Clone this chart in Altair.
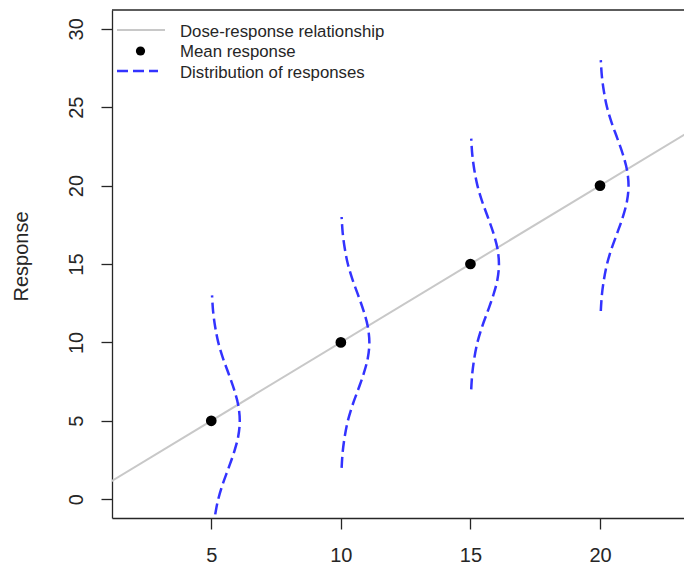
import altair as alt
import pandas as pd

# ---- values ----
doses = [5, 10, 15, 20]
mean_response = [5, 10, 15, 20]
line_dose = [0, 25]
line_response = [0, 25]
dist_offsets = [-8, -7, -6, -5, -4, -3, -2, -1, 0, 1, 2, 3, 4, 5, 6, 7, 8]
dist_widths = [0.03, 0.07, 0.15, 0.27, 0.45, 0.67, 0.88, 1.04, 1.10,
               1.04, 0.88, 0.67, 0.45, 0.27, 0.15, 0.07, 0.03]
x_ticks = [5, 10, 15, 20]
y_ticks = [0, 5, 10, 15, 20, 25, 30]
legend_labels = ["Dose-response relationship", "Mean response", "Distribution of responses"]

# ---- tables ----
pts = pd.DataFrame({"x": doses, "y": mean_response})
line_df = pd.DataFrame({"x": line_dose, "y": line_response})
rows = []
for d, m in zip(doses, mean_response):
    for k, (o, w) in enumerate(zip(dist_offsets, dist_widths)):
        rows.append({"dose": d, "x": d + w, "y": m + o, "k": k})
curve_df = pd.DataFrame(rows)
leg_df = pd.DataFrame({"label": legend_labels, "i": list(range(len(legend_labels)))})
one = pd.DataFrame({"a": [0]})

W, H = 572, 508
FONT = "Liberation Sans"
AX = "#262626"
BLUE = "#3333ff"

xscale = alt.Scale(domain=[1.17, 23.24], nice=False, zero=False)
yscale = alt.Scale(domain=[-1.2, 31.2], nice=False, zero=False)

x_axis = alt.Axis(values=x_ticks, title="", labelFontSize=20, labelFont=FONT,
                  labelColor=AX, labelPadding=16, labelBaseline="top", grid=False,
                  tickSize=11, tickWidth=1.3, tickColor=AX, domainColor=AX,
                  domainWidth=1.3, labelFlush=False)
y_axis = alt.Axis(values=y_ticks, title="Response", labelFontSize=20, labelFont=FONT,
                  labelColor=AX, labelAngle=270, labelAlign="center",
                  labelBaseline="alphabetic", labelPadding=19, grid=False,
                  tickSize=11, tickWidth=1.3, tickColor=AX, domainColor=AX,
                  domainWidth=1.3, labelFlush=False,
                  titleFontSize=20, titleFont=FONT, titleFontWeight="normal",
                  titleColor=AX, titleAngle=270, titleX=-91, titleY=H / 2 - 8,
                  titleAlign="center", titleBaseline="middle")

xe = alt.X("x:Q", scale=xscale, axis=x_axis)
ye = alt.Y("y:Q", scale=yscale, axis=y_axis)

reg = alt.Chart(line_df).mark_line(color="#c8c8c8", strokeWidth=2, clip=True).encode(x=xe, y=ye)
dots = alt.Chart(pts).mark_circle(color="black", size=115, opacity=1).encode(x=xe, y=ye)
curves = alt.Chart(curve_df).mark_line(
    color=BLUE, strokeWidth=2.5, strokeDash=[11, 5], clip=True,
    interpolate="catmull-rom"
).encode(x=xe, y=ye, detail="dose:N", order="k:Q")

top_border = alt.Chart(one).mark_rule(color=AX, strokeWidth=1.3).encode(
    x=alt.value(0), x2=alt.value(W), y=alt.value(0))

# legend (drawn in R style, no box)
leg_line = alt.Chart(one).mark_rule(color="#c8c8c8", strokeWidth=2).encode(
    x=alt.value(5), x2=alt.value(53), y=alt.value(20))
leg_dot = alt.Chart(one).mark_circle(color="black", size=85, opacity=1).encode(
    x=alt.value(28.5), y=alt.value(41))
leg_dash = alt.Chart(one).mark_rule(color=BLUE, strokeWidth=2.5, strokeDash=[11, 5]).encode(
    x=alt.value(5), x2=alt.value(46), y=alt.value(61))
leg_text = alt.Chart(leg_df).transform_calculate(
    ly="21.5 + 20.5 * datum.i"
).mark_text(align="left", baseline="middle", font=FONT, fontSize=16.8, color=AX).encode(
    x=alt.value(68), y=alt.Y("ly:Q", scale=None, axis=None), text="label:N")

chart = alt.layer(
    reg, curves, dots, top_border, leg_line, leg_dot, leg_dash, leg_text
).properties(
    width=W, height=H,
    autosize=alt.AutoSizeParams(type="none"),
    padding={"left": 104, "top": 2, "right": 0, "bottom": 50},
    background="white",
).configure_view(strokeWidth=0)

chart.save("out.html", embed_options={"renderer": "svg", "actions": False})
